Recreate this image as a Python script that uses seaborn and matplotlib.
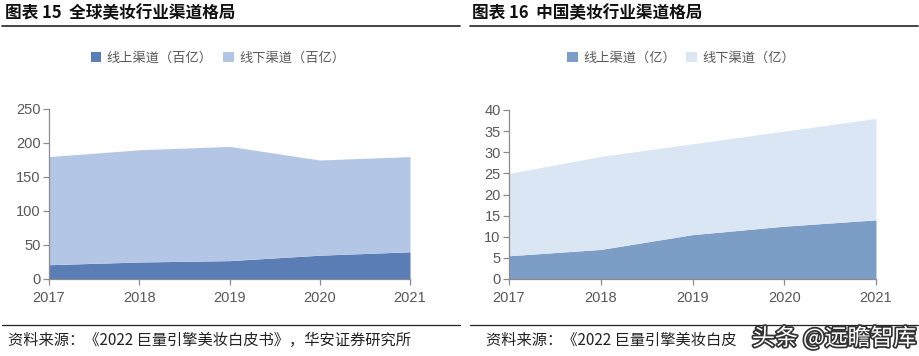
import matplotlib
matplotlib.use("Agg")
import matplotlib.pyplot as plt
import matplotlib.patheffects as pe
from matplotlib.patches import Patch
from matplotlib.lines import Line2D
import seaborn as sns

years = [2017, 2018, 2019, 2020, 2021]

# global market, hundred-billion units
global_online = [21, 25, 27, 35, 40]
global_offline = [159, 165, 168, 140, 140]

# china market, 100 million units
china_online = [5.5, 7, 10.5, 12.5, 14]
china_offline = [19.5, 22, 21.5, 22.5, 24]

sns.set_style("white")
plt.rcParams['font.family'] = ['Noto Sans CJK SC', 'DejaVu Sans']

W, H = 920, 356
fig = plt.figure(figsize=(W / 100, H / 100), dpi=100)

def px_axes(x0, x1, ytop, ybot):
    return fig.add_axes([x0 / W, (H - ybot) / H, (x1 - x0) / W, (ybot - ytop) / H])

tick_color = "#595959"
num_font = ['Liberation Sans', 'DejaVu Sans']

def style_ax(ax, ymax, ystep):
    ax.set_xlim(2017, 2021)
    ax.set_ylim(0, ymax)
    ax.set_xticks(years)
    ax.set_yticks(range(0, ymax + 1, ystep))
    for s in ["top", "right"]:
        ax.spines[s].set_visible(False)
    for s in ["left", "bottom"]:
        ax.spines[s].set_color("#8c8c8c")
        ax.spines[s].set_linewidth(0.9)
    ax.tick_params(axis="both", which="major", direction="out", length=4, width=0.9,
                   color="#8c8c8c", labelcolor=tick_color, labelsize=10.5, pad=2,
                   left=True, bottom=True)
    ax.tick_params(axis="x", pad=5)
    for lab in ax.get_xticklabels() + ax.get_yticklabels():
        lab.set_family(num_font)
    ax.grid(False)
    ax.set_facecolor("none")

# left chart
ax1 = px_axes(49, 410, 109, 279)
c1 = ["#5b7db5", "#b3c6e5"]
ax1.stackplot(years, global_online, global_offline, colors=c1, linewidth=0)
style_ax(ax1, 250, 50)

# right chart
ax2 = px_axes(509, 876, 110, 279)
c2 = ["#7c9dc6", "#dae6f4"]
ax2.stackplot(years, china_online, china_offline, colors=c2, linewidth=0)
style_ax(ax2, 40, 5)

# titles
fig.text(5 / W, 1 - 13 / H, "图表 15  全球美妆行业渠道格局", fontsize=12, fontweight="bold",
         va="center", ha="left", color="#111111")
fig.text(472 / W, 1 - 13 / H, "图表 16  中国美妆行业渠道格局", fontsize=12, fontweight="bold",
         va="center", ha="left", color="#111111")

# separator lines
for (xa, xb) in [(2, 460), (470, 918)]:
    fig.add_artist(Line2D([xa / W, xb / W], [1 - 26 / H, 1 - 26 / H], color="#222222", lw=1.2))
    fig.add_artist(Line2D([xa / W, xb / W], [1 - 325 / H, 1 - 325 / H], color="#222222", lw=0.9))

# legends
def add_legend(labels, colors, cx):
    handles = [Patch(facecolor=c, edgecolor="none") for c in colors]
    fig.legend(handles, labels, loc="center", bbox_to_anchor=(cx / W, 1 - 58 / H), ncol=2,
               frameon=False, fontsize=9.5, handlelength=0.8, handleheight=0.8,
               handletextpad=0.4, columnspacing=0.8, labelcolor="#595959")

add_legend(["线上渠道（百亿）", "线下渠道（百亿）"], c1, 218)
add_legend(["线上渠道（亿）", "线下渠道（亿）"], c2, 681)

# footers (right one is cut off by the watermark in the source image)
fig.text(8 / W, 1 - 340 / H, "资料来源：《2022 巨量引擎美妆白皮书》，华安证券研究所",
         fontsize=11, va="center", ha="left", color="#222222")
fig.text(486 / W, 1 - 340 / H, "资料来源：《2022 巨量引擎美妆白皮",
         fontsize=11, va="center", ha="left", color="#222222")

# watermark
fig.text(916 / W, 1 - 338 / H, "头条 @远瞻智库", fontsize=16.5, va="center", ha="right",
         color="white", path_effects=[pe.withStroke(linewidth=2.5, foreground="#333333")])

fig.savefig("out.png", dpi=100)
